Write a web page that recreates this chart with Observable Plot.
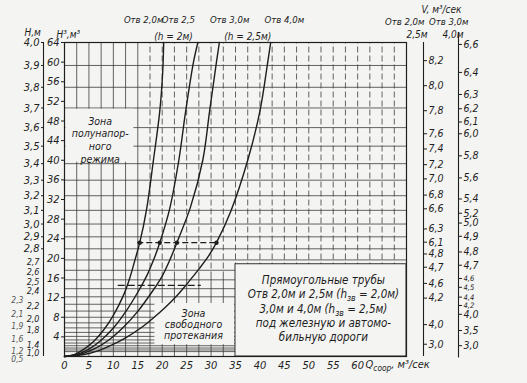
<!DOCTYPE html>
<html><head><meta charset="utf-8">
<script src="https://cdn.jsdelivr.net/npm/d3@7"></script>
<script src="https://cdn.jsdelivr.net/npm/@observablehq/plot@0.6"></script>
<style>
html,body{margin:0;padding:0;background:#f4f4f2;}
#chart svg{display:block;}
</style></head><body><div id="chart"></div>
<script>
// ---- data (Q in m³/s, vertical coordinate in H³, m³) ----
const curveNames = ["Отв 2,0м", "Отв 2,5м", "Отв 3,0м", "Отв 4,0м"];
const curve20 = [[0,0],[2,0.4],[4,1.5],[6,3.1],[8,5.4],[10,8.4],[12,12.3],[13.3,15.8],[14.4,19.6],[15.4,23.2],[16.8,30],[18.2,40],[19.5,50],[20.1,58],[20.3,64]];
const curve25 = [[0,0],[2.5,0.4],[5,1.5],[7.5,3.3],[10,5.8],[12.5,9.1],[15,13.1],[17,16.8],[18.2,19.6],[19.5,23.2],[21.5,30],[23.4,40],[24.8,50],[26.4,60],[27.3,64]];
const curve30 = [[0,0],[3,0.4],[6,1.5],[9,3.3],[12,5.9],[15,9.2],[18,13.3],[20,16.4],[21.7,20.0],[23,23.2],[25.8,30.5],[28.3,40],[29.7,50],[31.1,60],[31.7,64]];
const curve40 = [[0,0],[4,0.4],[7,1.2],[9.4,2.2],[12.5,3.8],[15.6,5.8],[18,7.7],[20.7,10.1],[23,12.4],[25.4,15.2],[27.5,17.8],[29.5,20.5],[31.1,23.2],[34,29.5],[37.5,40],[40,50],[41.6,60],[42.2,64]];
const exampleH3 = 23.2;                       // dashed example level
const exampleQ = [15.4, 19.5, 23, 31.1];      // intersections with the curves
const exampleSpan = [15, 31.6];
const example2H3 = 14.5;
const example2Span = [11, 28];

const xTicks = [0,5,10,15,20,25,30,35,40,45,50,55,60];
const h3Ticks = [4,8,12,16,20,24,28,32,36,40,44,48,52,56,60,64];
const hBig = [4.0,3.9,3.8,3.7,3.6,3.5,3.4,3.3,3.2,3.1,3.0,2.9,2.8];
const hSmall = [2.7,2.6,2.5,2.4,2.2,2.0,1.8,1.4,1.0];
const hAlt = [2.3,2.1,1.9,1.6,1.2,0.5];
const hGrid = [1.0,1.1,1.2,1.3,1.4,1.5,1.6,1.7,1.8,1.9,2.0,2.1,2.2,2.3,2.4,2.5,2.6,2.7,2.8,2.9,3.0,3.1,3.2,3.3,3.4,3.5,3.6,3.7,3.8,3.9];
const qGrid = [2.5,5,7.5,10,12.5,15,17.5,20,22.5,25,27.5,30,32.5,35,37.5,40,42.5,45,47.5,50,52.5,55,57.5,60,62.5,65,67.5];

// right-hand velocity scales: label and the H³ level it sits at
const v1Labels = ["8,2","8,0","7,8","7,6","7,4","7,2","7,0","6,8","6,6","6,3","6,1","4,8","4,7","4,6","4,2","4,0","3,0"];
const v1Levels = [60.3,55.2,50.1,45.4,42.3,39.1,36.2,32.9,30.1,26.0,23.3,20.9,18.2,14.9,11.9,6.5,2.5];
const v2Labels = ["6,6","6,4","6,3","6,2","6,1","6,0","5,8","5,6","5,4","5,2","5,0","4,9","4,8","4,7","4,6","4,5","4,4","4,2","4,0","3,5","3,0"];
const v2Levels = [63.6,57.9,53.4,50.5,47.8,45.4,40.9,36.4,32.1,29.2,27.2,24.5,21.3,18.6,15.7,13.9,11.9,10.2,8.6,5.3,2.2];
const v2Crowded = ["4,6","4,5","4,4","4,2"];

const zoneTop = "Зона\nполунапор-\nного\nрежима";
const zoneBottom = "Зона\nсвободного\nпротекания";
const boxText = "Прямоугольные трубы\nОтв 2,0м и 2,5м (h_{зв} = 2,0м)\n3,0м и 4,0м (h_{зв} = 2,5м)\nпод железную и автомо-\nбильную дороги";
const curveTitles = ["Отв 2,0м","Отв 2,5","Отв 3,0м","Отв 4,0м"];
const curveSub = ["(h = 2м)","(h = 2,5м)"];

// ---- build ----
const BG = "#f4f4f2", INK = "#1e1e1e", GRID = "#3c3c3c";
const FONT = '"DejaVu Sans Condensed","Liberation Sans Narrow","DejaVu Sans",sans-serif';
const cube = h => h*h*h;
const fmt = v => v.toFixed(1).replace(".", ",");
const lineData = [curve20, curve25, curve30, curve40].flatMap((pts, i) => pts.map(([q, h3]) => ({name: curveNames[i], q, h3})));
const v1Map = new Map(v1Levels.map((p, i) => [p, v1Labels[i]]));
const v2Map = new Map(v2Levels.map((p, i) => [p, v2Labels[i]]));
const v2Normal = v2Levels.filter(p => !v2Crowded.includes(v2Map.get(p)));
const v2Tight = v2Levels.filter(p => v2Crowded.includes(v2Map.get(p)));

const chart = Plot.plot({
  width: 527, height: 383,
  marginLeft: 64, marginRight: 121, marginTop: 42, marginBottom: 27,
  x: {domain: [0, 70], axis: null},
  y: {domain: [0, 64], axis: null},
  style: {background: BG, fontFamily: FONT, fontStyle: "italic", color: INK, fontSize: "11px"},
  marks: [
    // grid
    Plot.ruleY(hGrid.map(cube), {stroke: GRID, strokeWidth: 0.8}),
    Plot.ruleX(qGrid, {y1: 0, y2: 16, stroke: GRID, strokeWidth: 0.8}),
    Plot.ruleX(qGrid.filter(q => q <= 15), {y1: 16, y2: 64, stroke: GRID, strokeWidth: 0.8}),
    Plot.ruleX(qGrid.filter(q => q > 15), {y1: 16, y2: 64, stroke: GRID, strokeWidth: 0.8, strokeDasharray: "6,3"}),
    // zone boxes
    Plot.rect([0], {x1: 0.3, x2: 14.2, y1: 39.6, y2: 50.4, fill: BG}),
    Plot.rect([0], {x1: 18.5, x2: 34.8, y1: 2.4, y2: 10.8, fill: BG}),
    Plot.rect([0], {x1: 35, x2: 70, y1: 0, y2: 18.8, fill: BG, stroke: INK, strokeWidth: 0.9}),
    Plot.frame({stroke: INK, strokeWidth: 1.2}),
    // curves
    Plot.line(lineData, {x: "q", y: "h3", z: "name", curve: "catmull-rom", stroke: INK, strokeWidth: 1.4}),
    Plot.ruleY([exampleH3], {x1: exampleSpan[0], x2: exampleSpan[1], stroke: INK, strokeWidth: 1.2, strokeDasharray: "6,3"}),
    Plot.ruleY([example2H3], {x1: example2Span[0], x2: example2Span[1], stroke: INK, strokeWidth: 1.1, strokeDasharray: "7,3"}),
    Plot.dot(exampleQ, {x: d => d, y: exampleH3, r: 2.2, fill: INK}),
    // left axes
    Plot.axisY(h3Ticks, {anchor: "left", label: null, tickSize: 3, tickPadding: 2, fontSize: 11, stroke: INK}),
    Plot.ruleX([0], {dx: -21, y1: 0, y2: 64, stroke: INK, strokeWidth: 1.1}),
    Plot.axisY(hBig.map(cube), {anchor: "left", label: null, dx: -21, tickSize: 2, tickPadding: 2, fontSize: 11, tickFormat: d => fmt(Math.cbrt(d))}),
    Plot.axisY(hSmall.map(cube), {anchor: "left", label: null, dx: -21, dy: 2, tickSize: 0, tickPadding: 4, fontSize: 9, tickFormat: d => fmt(Math.cbrt(d))}),
    Plot.axisY(hAlt.map(cube), {anchor: "left", label: null, dx: -38, dy: 3, tickSize: 0, tickPadding: 3, fontSize: 8.5, fill: "#555", tickFormat: d => fmt(Math.cbrt(d))}),
    // bottom axis
    Plot.axisX(xTicks, {anchor: "bottom", label: null, tickSize: 0, tickPadding: 5, fontSize: 11}),
    Plot.text(["Q_{соор}, м³/сек"], {frameAnchor: "bottom-right", dx: -41, dy: 11, textAnchor: "start", fontSize: 11}),
    // right velocity axes
    Plot.ruleX([70], {dx: 17, y1: 0, y2: 64, stroke: INK, strokeWidth: 1.1}),
    Plot.axisY(v1Levels, {anchor: "right", label: null, dx: 17, tickSize: 3, tickPadding: 2, fontSize: 10.5, tickFormat: d => v1Map.get(d)}),
    Plot.ruleX([70], {dx: 52, y1: -0.3, y2: 66, stroke: INK, strokeWidth: 1.1}),
    Plot.axisY(v2Normal, {anchor: "right", label: null, dx: 52, tickSize: 3, tickPadding: 2, fontSize: 10.5, tickFormat: d => v2Map.get(d)}),
    Plot.axisY(v2Tight, {anchor: "right", label: null, dx: 52, dy: -1, tickSize: 3, tickPadding: 2, fontSize: 7.5, tickFormat: d => v2Map.get(d)}),
    // headers
    Plot.text(["H,м"], {frameAnchor: "top-left", dx: -40, dy: -14, fontSize: 10}),
    Plot.text(["H³,м³"], {frameAnchor: "top-left", dx: -8, dy: -12, fontSize: 10}),
    Plot.text([curveTitles[0]], {x: 16.2, frameAnchor: "top", dy: -26, fontSize: 9.5}),
    Plot.text([curveTitles[1]], {x: 23.3, frameAnchor: "top", dy: -26, fontSize: 9.5}),
    Plot.text([curveTitles[2]], {x: 33.8, frameAnchor: "top", dy: -26, fontSize: 9.5}),
    Plot.text([curveTitles[3]], {x: 45.0, frameAnchor: "top", dy: -26, fontSize: 9.5}),
    Plot.text([curveSub[0]], {x: 22.3, frameAnchor: "top", dy: -10, fontSize: 10}),
    Plot.text([curveSub[1]], {x: 37.5, frameAnchor: "top", dy: -10, fontSize: 10}),
    Plot.text(["V, м³/сек"], {frameAnchor: "top-right", dx: 55, dy: -37, fontSize: 10}),
    Plot.text(["Отв 2,0м"], {frameAnchor: "top-right", dx: 18, dy: -24, fontSize: 9.5}),
    Plot.text(["Отв 3,0м"], {frameAnchor: "top-right", dx: 62, dy: -24, fontSize: 9.5}),
    Plot.text(["2,5м"], {frameAnchor: "top-right", dx: 21, dy: -12, fontSize: 10}),
    Plot.text(["4,0м"], {frameAnchor: "top-right", dx: 57, dy: -12, fontSize: 10}),
    // zone labels
    Plot.text([zoneTop], {x: 7.3, y: 44.2, fontSize: 10.5, lineHeight: 1.2}),
    Plot.text([zoneBottom], {x: 26.4, y: 6.5, fontSize: 10.5, lineHeight: 1.05}),
    Plot.text([boxText], {x: 53, y: 9.9, fontSize: 11.5, lineHeight: 1.25})
  ]
});

// subscripts written as _{...}
d3.select(chart).selectAll("text, tspan").each(function() {
  if (this.childElementCount === 0 && this.textContent.includes("_{")) {
    const parts = this.textContent.split(/_\{([^}]*)\}/);
    this.textContent = "";
    parts.forEach((p, i) => {
      if (!p) return;
      const t = document.createElementNS("http://www.w3.org/2000/svg", "tspan");
      t.textContent = p;
      if (i % 2 === 1) { t.setAttribute("dy", "3"); t.setAttribute("font-size", "0.75em"); }
      else if (i > 0) { t.setAttribute("dy", "-3"); }
      this.appendChild(t);
    });
  }
});
document.getElementById("chart").appendChild(chart);
</script>
</body></html>
